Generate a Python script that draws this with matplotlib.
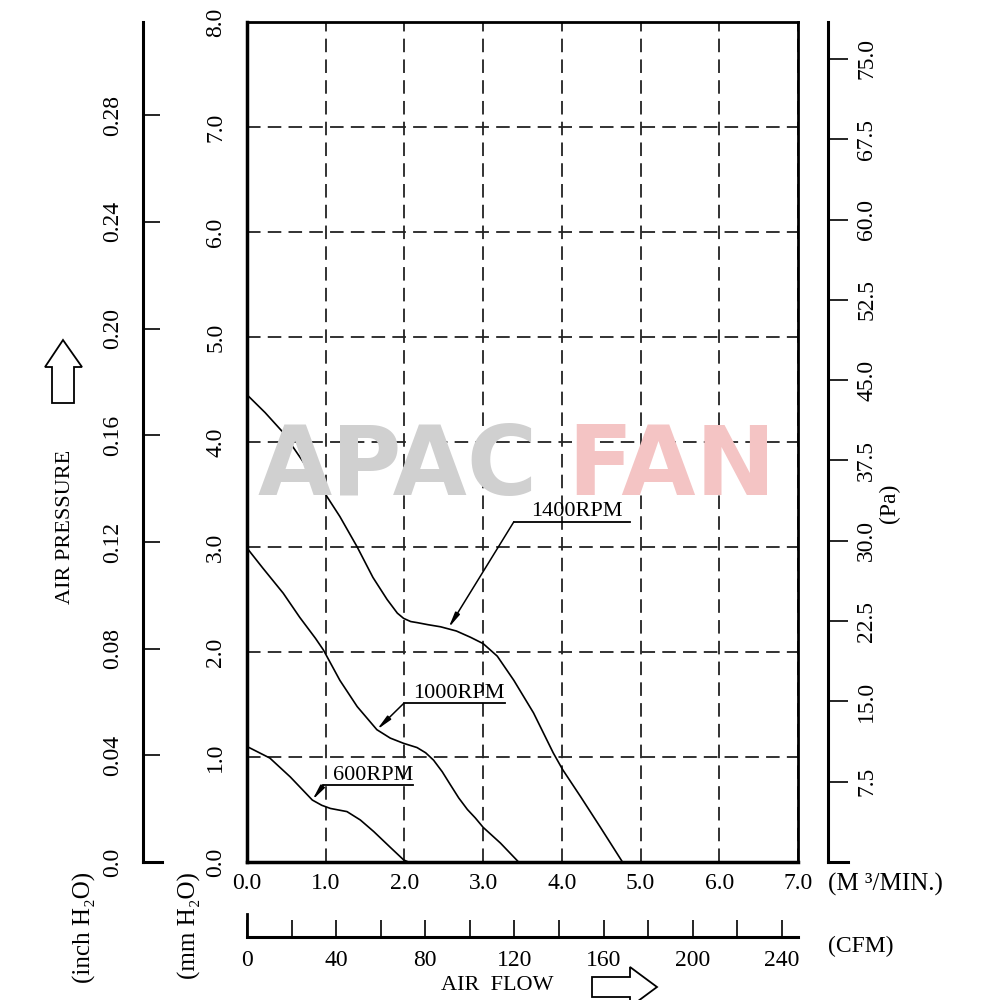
import numpy as np
import matplotlib
matplotlib.use('Agg')
import matplotlib.pyplot as plt
from matplotlib.patches import Polygon

plt.rcParams['font.family'] = ['Liberation Serif', 'DejaVu Serif']

# fan curves, air flow in m3/min vs static pressure in mm H2O
rpm1400_x = [0, 0.23, 0.46, 0.55, 0.76, 0.99, 1.18, 1.40, 1.60, 1.78, 1.91, 1.99,
             2.08, 2.16, 2.30, 2.46, 2.66, 2.84, 3.00, 3.18, 3.39, 3.64, 3.89, 4.01,
             4.24, 4.49, 4.77]
rpm1400_y = [4.45, 4.28, 4.09, 3.99, 3.76, 3.51, 3.29, 3.00, 2.71, 2.50, 2.37, 2.32,
             2.29, 2.28, 2.26, 2.24, 2.20, 2.14, 2.08, 1.96, 1.73, 1.42, 1.04, 0.88,
             0.62, 0.33, 0.0]

rpm1000_x = [0, 0.20, 0.46, 0.67, 0.87, 0.97, 1.18, 1.40, 1.65, 1.82, 1.99, 2.16,
             2.27, 2.37, 2.48, 2.58, 2.69, 2.80, 2.90, 3.00, 3.22, 3.45]
rpm1000_y = [2.99, 2.80, 2.56, 2.33, 2.13, 2.02, 1.73, 1.48, 1.26, 1.18, 1.13, 1.09,
             1.04, 0.97, 0.86, 0.74, 0.61, 0.50, 0.42, 0.33, 0.18, 0.0]

rpm600_x = [0, 0.29, 0.55, 0.83, 0.95, 1.06, 1.27, 1.44, 1.61, 1.82, 1.99, 2.05]
rpm600_y = [1.10, 0.99, 0.81, 0.59, 0.54, 0.51, 0.48, 0.40, 0.29, 0.14, 0.02, 0.0]

# labels: (text, underline x0, underline x1, underline y, arrow tip x, tip y)
labels = [('1400RPM', 3.39, 4.86, 3.24, 2.56, 2.23),
          ('1000RPM', 1.99, 3.28, 1.51, 1.65, 1.26),
          ('600RPM', 0.97, 2.11, 0.73, 0.83, 0.59)]

flow_ticks = np.arange(0, 8, 1.0)
mm_ticks = np.arange(0, 9, 1.0)
inch_ticks = [0.0, 0.04, 0.08, 0.12, 0.16, 0.20, 0.24, 0.28]
inch_labels = ['0.0', '0.04', '0.08', '0.12', '0.16', '0.20', '0.24', '0.28']
pa_ticks = [7.5, 15.0, 22.5, 30.0, 37.5, 45.0, 52.5, 60.0, 67.5, 75.0]
cfm_major = [0, 40, 80, 120, 160, 200, 240]
cfm_minor = [20, 60, 100, 140, 180, 220]

MM_PER_INCH = 25.4
PA_PER_MM = 9.80665
CFM_PER_M3MIN = 35.3147

FS = 17

fig = plt.figure(figsize=(10, 10), dpi=100)

# watermark
fig.text(0.258, 0.505, 'APAC', fontsize=69, fontweight='bold', color='#d0d0d0',
         family='DejaVu Sans', ha='left', va='baseline', zorder=0)
fig.text(0.567, 0.505, 'FAN', fontsize=69, fontweight='bold', color='#f4c4c4',
         family='DejaVu Sans', ha='left', va='baseline', zorder=0)

ax = fig.add_axes([0.247, 0.138, 0.551, 0.840])
ax.patch.set_alpha(0)
ax.set_xlim(0, 7)
ax.set_ylim(0, 8)
ax.set_xticks(flow_ticks)
ax.set_xticklabels(['%.1f' % v for v in flow_ticks], fontsize=FS)
ax.set_yticks(mm_ticks)
ax.set_yticklabels(['%.1f' % v for v in mm_ticks], fontsize=FS, rotation=90, va='center')
ax.tick_params(axis='x', length=0, pad=8)
ax.tick_params(axis='y', length=0, pad=15)
ax.grid(True, ls=(0, (7.5, 4)), color='#222222', lw=1.3)
for s in ['left', 'bottom']:
    ax.spines[s].set_linewidth(2.5)
for s in ['top', 'right']:
    ax.spines[s].set_linewidth(2.0)

for xs, ys in [(rpm1400_x, rpm1400_y), (rpm1000_x, rpm1000_y), (rpm600_x, rpm600_y)]:
    ax.plot(xs, ys, color='black', lw=1.2, solid_joinstyle='round')

for text, x0, x1, yl, tx, ty in labels:
    ax.plot([x0, x1], [yl, yl], color='black', lw=1.3)
    ax.text((x0 + x1) / 2 + 0.06, yl + 0.005, text, ha='center', va='bottom', fontsize=16)
    ax.annotate('', xy=(tx, ty), xytext=(x0, yl),
                arrowprops=dict(arrowstyle='-|>,head_length=0.9,head_width=0.15',
                                color='black', lw=1.1, shrinkA=0, shrinkB=0))

fig.text(0.885, 0.116, '(M ³/MIN.)', fontsize=18, ha='center', va='center')

# inch H2O axis
ax_in = fig.add_axes([0.143, 0.138, 0.019, 0.840])
ax_in.patch.set_alpha(0)
ax_in.set_ylim(0, 8 / MM_PER_INCH)
ax_in.set_xticks([])
ax_in.set_yticks(inch_ticks)
ax_in.set_yticklabels(inch_labels, fontsize=FS, rotation=90, va='center')
ax_in.tick_params(axis='y', direction='in', length=12, width=1.2, pad=14)
for s in ['top', 'right']:
    ax_in.spines[s].set_visible(False)
ax_in.spines['left'].set_linewidth(2.2)
ax_in.spines['bottom'].set_linewidth(2.2)

# Pa axis
ax_pa = fig.add_axes([0.828, 0.138, 0.020, 0.840])
ax_pa.patch.set_alpha(0)
ax_pa.set_ylim(0, 8 * PA_PER_MM)
ax_pa.set_xticks([])
ax_pa.set_yticks(pa_ticks)
ax_pa.set_yticklabels(['%.1f' % v for v in pa_ticks], fontsize=FS, rotation=90, va='center')
ax_pa.tick_params(axis='y', left=True, right=False, labelleft=False, labelright=True,
                  direction='in', length=14.4, width=1.2, pad=6)
for s in ['top', 'right']:
    ax_pa.spines[s].set_visible(False)
ax_pa.spines['left'].set_linewidth(2.2)
ax_pa.spines['bottom'].set_linewidth(2.2)
fig.text(0.889, 0.497, '(Pa)', fontsize=FS, rotation=90, ha='center', va='center')

# CFM axis
ax_cfm = fig.add_axes([0.247, 0.063, 0.551, 0.023])
ax_cfm.patch.set_alpha(0)
ax_cfm.set_xlim(0, 7 * CFM_PER_M3MIN)
ax_cfm.set_yticks([])
ax_cfm.set_xticks(cfm_major)
ax_cfm.set_xticklabels([str(v) for v in cfm_major], fontsize=FS)
ax_cfm.set_xticks(cfm_minor, minor=True)
ax_cfm.tick_params(axis='x', which='both', direction='in', length=12, width=1.2, pad=9)
for s in ['top', 'right']:
    ax_cfm.spines[s].set_visible(False)
ax_cfm.spines['left'].set_linewidth(2.0)
ax_cfm.spines['bottom'].set_linewidth(2.2)
fig.text(0.861, 0.054, '(CFM)', fontsize=FS, ha='center', va='center')

# axis titles
fig.text(0.065, 0.473, 'AIR PRESSURE', fontsize=16, rotation=90, ha='center', va='center')
fig.text(0.084, 0.073, '(inch H₂O)', fontsize=18, rotation=90, ha='center', va='center')
fig.text(0.189, 0.074, '(mm H₂O)', fontsize=18, rotation=90, ha='center', va='center')
fig.text(0.497, 0.014, 'AIR  FLOW', fontsize=16, ha='center', va='center')

up = [(52, 403), (52, 367), (45, 367), (63, 340), (82, 367), (74, 367), (74, 403)]
right = [(592, 977), (630, 977), (630, 967), (657, 987), (630, 1007), (630, 997), (592, 997)]
for pts in [up, right]:
    poly = Polygon([(px / 1000, 1 - py / 1000) for px, py in pts], closed=True,
                   facecolor='white', edgecolor='black', lw=1.3, transform=fig.transFigure)
    fig.patches.append(poly)

fig.savefig('out.png', dpi=100)
